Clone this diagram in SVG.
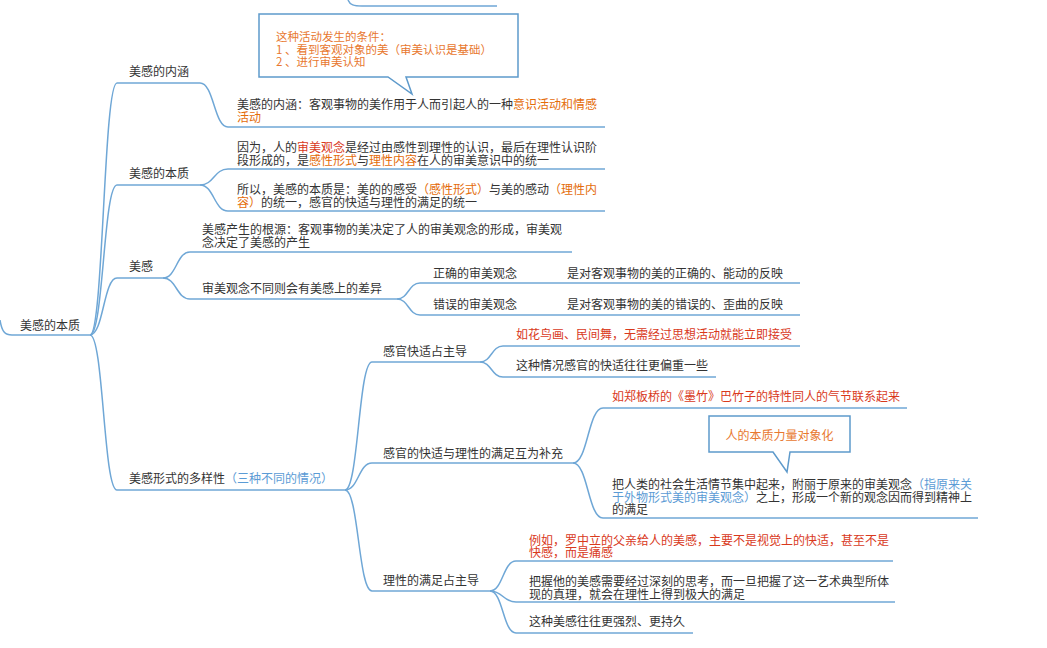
<svg xmlns="http://www.w3.org/2000/svg" width="1047" height="648" viewBox="0 0 1047 648">
<style>
.t{font-family:"Noto Sans CJK SC","Noto Sans",sans-serif;font-size:12px;fill:#333}
.o{fill:#e46c0a}
.r{fill:#d9391c}
.b{fill:#5b9bd5}
.u{stroke:#6fa7d6;stroke-width:1.5;fill:none}
.c{stroke:#6fa7d6;stroke-width:1.5;fill:none}
.co{fill:#fff;stroke:#5e9acb;stroke-width:1.5}
.ct{font-family:"Noto Sans CJK SC","Noto Sans",sans-serif;font-size:11.5px;fill:#e8782f}
</style>
<rect width="1047" height="648" fill="#fff"/>
<g id="connectors">
<path class="c" d="M348,0 C350,5 354,6 362,6 L497,6"/>
<path class="c" d="M0,320 C2,332 5,335 12,335"/>
<path class="c" d="M90,335 C103.5,335 103.5,83 117,83"/>
<path class="c" d="M90,335 C103.5,335 103.5,185 117,185"/>
<path class="c" d="M90,335 C103.5,335 103.5,278 117,278"/>
<path class="c" d="M90,335 C103.5,335 103.5,490 117,490"/>
<path class="c" d="M200,83 C214,83 214,127 228,127"/>
<path class="c" d="M200,185 C214,185 214,169 228,169"/>
<path class="c" d="M200,185 C214,185 214,211 228,211"/>
<path class="c" d="M163,278 C176.5,278 176.5,252 190,252"/>
<path class="c" d="M163,278 C176.5,278 176.5,299 190,299"/>
<path class="c" d="M397,299 C408.5,299 408.5,283 420,283"/>
<path class="c" d="M397,299 C408.5,299 408.5,315 420,315"/>
<path class="c" d="M555,283 L562,283"/>
<path class="c" d="M555,315 L562,315"/>
<path class="c" d="M345,490 C358.5,490 358.5,362 372,362"/>
<path class="c" d="M345,490 C358.5,490 358.5,463 372,463"/>
<path class="c" d="M345,490 C358.5,490 358.5,591 372,591"/>
<path class="c" d="M480,362 C491.5,362 491.5,346 503,346"/>
<path class="c" d="M480,362 C491.5,362 491.5,377 503,377"/>
<path class="c" d="M573,463 C588,463 588,408 603,408"/>
<path class="c" d="M573,463 C588,463 588,518 603,518"/>
<path class="c" d="M490,591 C503,591 503,561 516,561"/>
<path class="c" d="M490,591 C503,591 503,602 516,602"/>
<path class="c" d="M490,591 C503,591 503,633 516,633"/>
</g>
<g id="n-root"><line class="u" x1="12" y1="335" x2="90" y2="335"/><text class="t" x="20" y="330">美感的本质</text></g>
<g id="n-neihan"><line class="u" x1="117" y1="83" x2="200" y2="83"/><text class="t" x="129" y="76">美感的内涵</text></g>
<g id="n-benzhi"><line class="u" x1="117" y1="185" x2="200" y2="185"/><text class="t" x="129" y="178">美感的本质</text></g>
<g id="n-meigan"><line class="u" x1="117" y1="278" x2="163" y2="278"/><text class="t" x="129" y="271">美感</text></g>
<g id="n-duoyang"><line class="u" x1="117" y1="490" x2="345" y2="490"/><text class="t" x="129" y="482.5">美感形式的多样性<tspan class="b">（三种不同的情况）</tspan></text></g>
<g id="callout-1"><path class="co" d="M259,14 H518 V77 H406 L412,94 L388,77 H259 Z"/>
<text class="ct" x="276" y="41">这种活动发生的条件：</text>
<text class="ct" x="276" y="53.5">1 、看到客观对象的美（审美认识是基础）</text>
<text class="ct" x="276" y="66">2 、进行审美认知</text></g>
<g id="n-neihan-1"><line class="u" x1="228" y1="127" x2="605" y2="127"/>
<text class="t" x="237" y="109">美感的内涵：客观事物的美作用于人而引起人的一种<tspan class="o">意识活动和情感</tspan></text>
<text class="t o" x="237" y="122">活动</text></g>
<g id="n-benzhi-1"><line class="u" x1="228" y1="169" x2="605" y2="169"/>
<text class="t" x="237" y="151.5">因为，人的<tspan class="r">审美观念</tspan>是经过由感性到理性的认识，最后在理性认识阶</text>
<text class="t" x="237" y="164.5">段形成的，是<tspan class="o">感性形式</tspan>与<tspan class="o">理性内容</tspan>在人的审美意识中的统一</text></g>
<g id="n-benzhi-2"><line class="u" x1="228" y1="211" x2="605" y2="211"/>
<text class="t" x="237" y="193.5">所以，美感的本质是：美的的感受<tspan class="o">（感性形式）</tspan>与美的感动<tspan class="o">（理性内</tspan></text>
<text class="t" x="237" y="206.5"><tspan class="o">容）</tspan>的统一，感官的快适与理性的满足的统一</text></g>
<g id="n-meigan-1"><line class="u" x1="190" y1="252" x2="572" y2="252"/>
<text class="t" x="202" y="234">美感产生的根源：客观事物的美决定了人的审美观念的形成，审美观</text>
<text class="t" x="202" y="247">念决定了美感的产生</text></g>
<g id="n-meigan-2"><line class="u" x1="190" y1="299" x2="397" y2="299"/><text class="t" x="202" y="292.5">审美观念不同则会有美感上的差异</text></g>
<g id="n-zhengque"><line class="u" x1="420" y1="283" x2="555" y2="283"/><text class="t" x="433" y="278">正确的审美观念</text></g>
<g id="n-zhengque-1"><line class="u" x1="562" y1="283" x2="800" y2="283"/><text class="t" x="567" y="278">是对客观事物的美的正确的、能动的反映</text></g>
<g id="n-cuowu"><line class="u" x1="420" y1="315" x2="555" y2="315"/><text class="t" x="433" y="308.5">错误的审美观念</text></g>
<g id="n-cuowu-1"><line class="u" x1="562" y1="315" x2="800" y2="315"/><text class="t" x="567" y="308.5">是对客观事物的美的错误的、歪曲的反映</text></g>
<g id="n-ganguan"><line class="u" x1="372" y1="362" x2="480" y2="362"/><text class="t" x="383" y="356">感官快适占主导</text></g>
<g id="n-ganguan-1"><line class="u" x1="503" y1="346" x2="800" y2="346"/><text class="t r" x="516" y="338.5">如花鸟画、民间舞，无需经过思想活动就能立即接受</text></g>
<g id="n-ganguan-2"><line class="u" x1="503" y1="377" x2="716" y2="377"/><text class="t" x="516" y="369.5">这种情况感官的快适往往更偏重一些</text></g>
<g id="n-huwei"><line class="u" x1="372" y1="463" x2="573" y2="463"/><text class="t" x="383" y="457.5">感官的快适与理性的满足互为补充</text></g>
<g id="n-huwei-1"><line class="u" x1="603" y1="408" x2="907" y2="408"/><text class="t r" x="612" y="400.5">如郑板桥的《墨竹》巴竹子的特性同人的气节联系起来</text></g>
<g id="callout-2"><path class="co" d="M709,416 H850 V452 H790 L787,472 L773,452 H709 Z"/>
<text class="t" x="779.5" y="439.5" text-anchor="middle" style="fill:#e8782f">人的本质力量对象化</text></g>
<g id="n-huwei-2"><line class="u" x1="603" y1="518" x2="978" y2="518"/>
<text class="t" x="612" y="489">把人类的社会生活情节集中起来，附丽于原来的审美观念<tspan class="b">（指原来关</tspan></text>
<text class="t" x="612" y="501.5"><tspan class="b">于外物形式美的审美观念）</tspan>之上，形成一个新的观念因而得到精神上</text>
<text class="t" x="612" y="514">的满足</text></g>
<g id="n-lixing"><line class="u" x1="372" y1="591" x2="490" y2="591"/><text class="t" x="383" y="584.5">理性的满足占主导</text></g>
<g id="n-lixing-1"><line class="u" x1="516" y1="561" x2="893" y2="561"/>
<text class="t r" x="529" y="544.5">例如，罗中立的父亲给人的美感，主要不是视觉上的快适，甚至不是</text>
<text class="t r" x="529" y="557">快感，而是痛感</text></g>
<g id="n-lixing-2"><line class="u" x1="516" y1="602" x2="895" y2="602"/>
<text class="t" x="529" y="586">把握他的美感需要经过深刻的思考，而一旦把握了这一艺术典型所体</text>
<text class="t" x="529" y="598.5">现的真理，就会在理性上得到极大的满足</text></g>
<g id="n-lixing-3"><line class="u" x1="516" y1="633" x2="693" y2="633"/><text class="t" x="529" y="626">这种美感往往更强烈、更持久</text></g>
</svg>
